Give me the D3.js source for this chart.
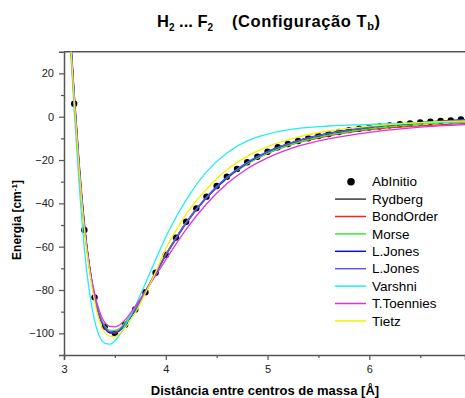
<!DOCTYPE html>
<html>
<head>
<meta charset="utf-8">
<script src="https://cdn.jsdelivr.net/npm/d3@7"></script>
<style>
  html, body { margin: 0; padding: 0; background: #fff; }
  svg { display: block; font-family: Arial, "Liberation Sans", sans-serif; }
  .tick text { fill: #222; }
</style>
</head>
<body>
<svg id="chart" width="465" height="398"></svg>
<script>
// AbInitio points (distance in Å, energy in cm-1)
const distances = [3.1, 3.2, 3.3, 3.4, 3.5, 3.6, 3.7, 3.8, 3.9, 4.0, 4.1, 4.2, 4.3, 4.4, 4.5, 4.6, 4.7, 4.8, 4.9, 5.0,
                   5.1, 5.2, 5.3, 5.4, 5.5, 5.6, 5.7, 5.8, 5.9, 6.0, 6.1, 6.2, 6.3, 6.4, 6.5, 6.6, 6.7, 6.8, 6.9];
const abInitio = [6, -52.3, -83.4, -96.9, -100, -96, -89, -81, -72, -63.8, -55.8, -48.5, -42.3, -36.9, -32, -27.7, -24.1, -21, -18.5, -16.2,
                  -14.1, -12.6, -11.2, -10, -8.9, -8, -7.1, -6.2, -5.6, -5.0, -4.5, -4.0, -3.5, -3.1, -2.7, -2.3, -2.0, -1.7, -1.3];

// fitted curves at these distances
const fitX = [3.06, 3.08, 3.1, 3.15, 3.2, 3.25, 3.3, 3.35, 3.4, 3.45, 3.5, 3.55, 3.6, 3.7, 3.8, 3.9, 4.0, 4.1, 4.2,
              4.4, 4.6, 4.8, 5.0, 5.3, 5.6, 6.0, 6.5, 6.95];
const rydberg   = [38, 24, 9, -24, -50, -69, -83, -92, -97, -99.5, -99.8, -98.5, -96, -89, -80.8, -72.2, -63.8, -56, -48.8,
                   -37, -28, -21.2, -16.3, -11.2, -7.9, -5, -2.9, -1.8];
const bondOrder = [38, 24, 9, -24, -51, -70, -83.5, -92.5, -97.5, -99.8, -100, -98.7, -96, -89, -80.5, -72, -63.5, -56, -48.8,
                   -37.3, -28.4, -21.8, -17, -12, -8.8, -6, -4.2, -3.2];
const morse     = [37, 23, 8, -24, -50, -69, -82.5, -91.5, -96.5, -98.5, -98.6, -97.5, -95, -88.5, -80.5, -72, -63.8, -56.2, -49,
                   -37.5, -28.5, -21.8, -16.8, -11.8, -8.5, -5.6, -3.5, -2.5];
const lJones1   = [40, 26, 11, -22, -49, -69, -83, -92.5, -97.5, -99.7, -99.8, -98.5, -96, -89.3, -81, -72.5, -64, -56.5, -49.3,
                   -37.5, -28.3, -21.3, -16.2, -11, -7.6, -4.8, -2.6, -1.3];
const lJones2   = [39, 25, 10, -23, -50, -69.5, -83, -92, -97, -99.2, -99.4, -98.2, -95.8, -89, -80.8, -72.3, -63.8, -56.2, -49,
                   -37.2, -28, -21.1, -16.1, -11, -7.7, -4.9, -2.7, -1.4];
const varshni   = [34, 19, 3, -32, -61, -81, -94, -101.5, -104.5, -105, -103.5, -100.5, -96.5, -87.5, -77, -66, -55.5, -46.5, -38.5,
                   -25.5, -16.8, -11.2, -8, -5.4, -4.3, -3.6, -2.8, -2.2];
const tToennies = [36, 22, 7, -25, -51, -69, -81.5, -90, -95, -96.8, -97, -96, -93.8, -87.5, -80.5, -73.3, -66, -58.8, -52,
                   -40.3, -31, -24, -19, -13.6, -10.2, -7.2, -4.8, -3.6];
const tietz     = [37, 23, 8, -25, -52, -71, -85, -94.5, -99.5, -101.3, -101.5, -100, -97.5, -90.5, -81.5, -71.8, -61, -52.5, -45,
                   -33.5, -24.5, -18.3, -13.8, -9.4, -6.6, -4.4, -2.7, -1.9];

const xTicks = [3, 4, 5, 6];
const yTicks = [-100, -80, -60, -40, -20, 0, 20];

const fits = [
    { name: 'Rydberg',    values: rydberg,   color: '#3a3a3a' },
    { name: 'BondOrder',  values: bondOrder, color: '#ff2020' },
    { name: 'Morse',      values: morse,     color: '#33ee33' },
    { name: 'L.Jones',    values: lJones1,   color: '#1010c8' },
    { name: 'L.Jones',    values: lJones2,   color: '#5a5af0' },
    { name: 'Varshni',    values: varshni,   color: '#22eeee' },
    { name: 'T.Toennies', values: tToennies, color: '#e030e0' },
    { name: 'Tietz',      values: tietz,     color: '#f2f200' }
];

const svg = d3.select('#chart');
const plotLeft = 64, plotRight = 465, plotTop = 51.7, plotBottom = 355;

const x = d3.scaleLinear().domain([3, 6.94]).range([plotLeft, plotRight]);
const y = d3.scaleLinear().domain([-110, 30]).range([plotBottom, plotTop]);

svg.append('defs').append('clipPath').attr('id', 'plot-clip')
    .append('rect')
    .attr('x', plotLeft).attr('y', plotTop)
    .attr('width', plotRight - plotLeft).attr('height', plotBottom - plotTop);

// --- axes ---
const axisColor = '#555';

svg.append('g')
    .attr('transform', `translate(0,${plotBottom})`)
    .call(d3.axisBottom(x).tickValues(xTicks).tickSize(5).tickPadding(5).tickFormat(d3.format('d')));
svg.append('g')
    .attr('transform', `translate(0,${plotBottom})`)
    .call(d3.axisBottom(x).tickValues([3.5, 4.5, 5.5, 6.5]).tickSize(3).tickFormat(''))
    .select('.domain').remove();

svg.append('g')
    .attr('transform', `translate(${plotLeft},0)`)
    .call(d3.axisLeft(y).tickValues(yTicks).tickSize(5).tickPadding(5).tickFormat(d3.format('d')));
svg.append('g')
    .attr('transform', `translate(${plotLeft},0)`)
    .call(d3.axisLeft(y).tickValues([-90, -70, -50, -30, -10, 10]).tickSize(3).tickFormat(''))
    .select('.domain').remove();

svg.selectAll('.domain').attr('stroke', axisColor).attr('stroke-width', 1.5);
svg.selectAll('.tick line').attr('stroke', axisColor).attr('stroke-width', 1.2);
svg.selectAll('.tick text').attr('font-size', 11).attr('font-family', 'Arial, "Liberation Sans", sans-serif');

// top frame
svg.append('line')
    .attr('x1', plotLeft).attr('x2', plotRight)
    .attr('y1', plotTop).attr('y2', plotTop)
    .attr('stroke', axisColor).attr('stroke-width', 1.5);

// --- points and curves ---
const plot = svg.append('g').attr('clip-path', 'url(#plot-clip)');

plot.append('g')
    .selectAll('circle')
    .data(distances)
    .join('circle')
    .attr('cx', d => x(d))
    .attr('cy', (d, i) => y(abInitio[i]))
    .attr('r', 3.2)
    .attr('fill', '#000');

const line = d3.line()
    .x((d, i) => x(fitX[i]))
    .y(d => y(d))
    .curve(d3.curveMonotoneX);

plot.append('g')
    .selectAll('path')
    .data(fits)
    .join('path')
    .attr('d', d => line(d.values))
    .attr('fill', 'none')
    .attr('stroke', d => d.color)
    .attr('stroke-width', 1.3);

// --- legend ---
const legend = svg.append('g').attr('font-size', 13.5);
const rowH = 17.4, legendTop = 181.7;

legend.append('circle')
    .attr('cx', 351).attr('cy', legendTop).attr('r', 3.8).attr('fill', '#000');
legend.append('text')
    .attr('x', 372).attr('y', legendTop).attr('dy', '0.35em')
    .text('AbInitio');

const rows = legend.selectAll('g.row')
    .data(fits)
    .join('g')
    .attr('class', 'row')
    .attr('transform', (d, i) => `translate(0,${legendTop + (i + 1) * rowH})`);
rows.append('line')
    .attr('x1', 335).attr('x2', 366)
    .attr('stroke', d => d.color).attr('stroke-width', 1.5);
rows.append('text')
    .attr('x', 372).attr('dy', '0.35em')
    .text(d => d.name);

// --- titles ---
const title = svg.append('g').attr('font-size', 16.5).attr('font-weight', 'bold');
const t1 = title.append('text').attr('x', 157).attr('y', 27).style('white-space', 'pre');
t1.append('tspan').text('H');
t1.append('tspan').attr('dy', 4).attr('font-size', 10).text('2');
t1.append('tspan').attr('dy', -4).text(' ... F');
t1.append('tspan').attr('dy', 4).attr('font-size', 10).text('2');
const t2 = title.append('text').attr('x', 232).attr('y', 27).attr('textLength', 148);
t2.append('tspan').text('(Configuração T');
t2.append('tspan').attr('dy', 3).attr('font-size', 11).text('b');
t2.append('tspan').attr('dy', -3).text(')');

svg.append('text')
    .attr('x', 265).attr('y', 395)
    .attr('text-anchor', 'middle')
    .attr('font-size', 13).attr('font-weight', 'bold')
    .text('Distância entre centros de massa [Å]');

const yLabel = svg.append('text')
    .attr('transform', 'translate(21,220) rotate(-90)')
    .attr('text-anchor', 'middle')
    .attr('font-size', 12).attr('font-weight', 'bold');
yLabel.append('tspan').text('Energia [cm');
yLabel.append('tspan').attr('dy', -4).attr('font-size', 8).text('-1');
yLabel.append('tspan').attr('dy', 4).text(']');
</script>
</body>
</html>
